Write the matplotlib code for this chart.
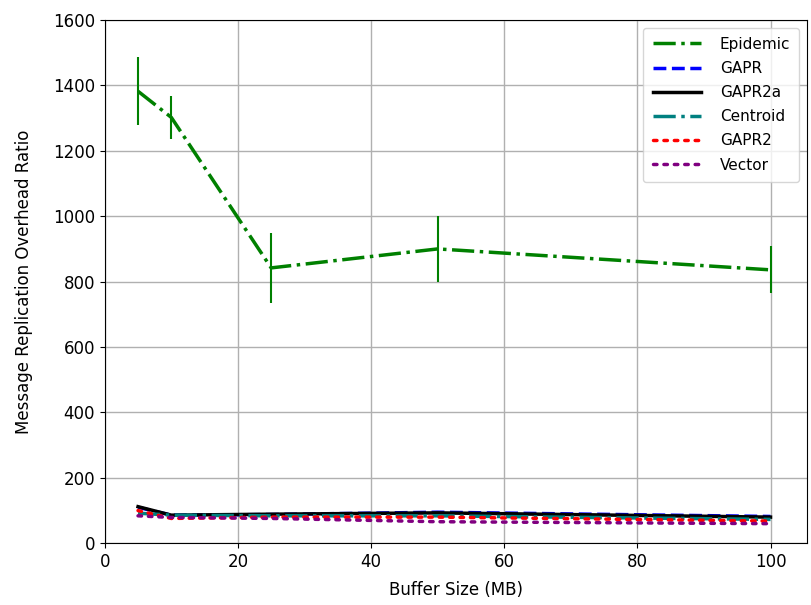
import matplotlib
matplotlib.use("Agg")
import matplotlib.pyplot as plt

buffer_mb = [5, 10, 25, 50, 100]

epidemic = [1382, 1302, 842, 900, 836]
epidemic_err = [104, 65, 107, 100, 72]
gapr = [110, 86, 88, 95, 82]
gapr2a = [112, 86, 89, 93, 80]
centroid = [92, 86, 84, 84, 73]
gapr2 = [100, 76, 80, 80, 68]
vector = [84, 79, 76, 66, 60]


def main():
    fig = plt.figure(figsize=(8.12, 6.05), dpi=100)
    ax = fig.add_axes([0.129, 0.102, 0.865, 0.865])

    ax.plot(buffer_mb, epidemic, color="green", linestyle="-.", linewidth=2.5, label="Epidemic")
    ax.errorbar(buffer_mb, epidemic, yerr=epidemic_err, color="green",
                linestyle="none", elinewidth=1.5)
    ax.plot(buffer_mb, gapr, color="blue", linestyle="--", linewidth=2.5, label="GAPR")
    ax.plot(buffer_mb, gapr2a, color="black", linestyle="-", linewidth=2.5, label="GAPR2a")
    ax.plot(buffer_mb, centroid, color="teal", linestyle="-.", linewidth=2.5, label="Centroid")
    ax.plot(buffer_mb, gapr2, color="red", linestyle=":", dashes=(1.0, 2.0),
            dash_capstyle="round", linewidth=2.5, label="GAPR2")
    ax.plot(buffer_mb, vector, color="purple", linestyle=":", dashes=(1.0, 2.0),
            dash_capstyle="round", linewidth=2.5, label="Vector")

    ax.set_xlim(0, 105.5)
    ax.set_ylim(0, 1600)
    ax.set_xlabel("Buffer Size (MB)", fontsize=12, labelpad=7)
    ax.set_ylabel("Message Replication Overhead Ratio", fontsize=12, labelpad=14)
    ax.tick_params(labelsize=12)
    ax.grid(True, color="#b0b0b0", linewidth=1)
    ax.legend(loc="upper right", fontsize=11, handlelength=3.2, labelspacing=0.6,
              borderpad=0.6, handletextpad=1.2)

    fig.savefig("out.png", dpi=100)
    plt.close(fig)


if __name__ == "__main__":
    main()
